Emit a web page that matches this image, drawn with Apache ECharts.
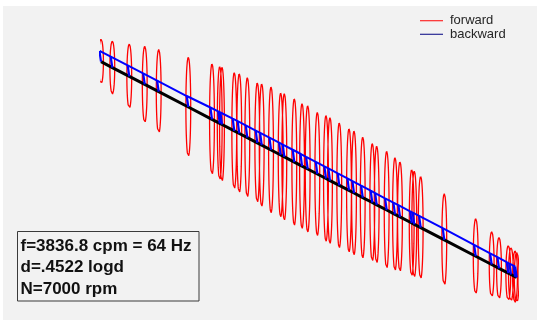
<!DOCTYPE html>
<html><head><meta charset="utf-8">
<script src="https://cdn.jsdelivr.net/npm/echarts@6/dist/echarts.min.js"></script>
<style>html,body{margin:0;padding:0;background:#fff}#c{width:537px;height:320px}</style>
</head><body><div id="c"></div>
<script>
// Axial station positions along the shaft (axial units)
const stationPos = [0, 1.36, 3.40, 5.26, 6.94, 10.50, 13.35, 14.28, 14.55, 16.03, 16.63,
  17.60, 18.80, 19.33, 20.45, 21.61, 22.05, 23.25, 24.18, 24.86, 26.02, 27.06, 27.54,
  28.66, 29.83, 30.43, 31.48, 32.63, 33.16, 34.36, 35.36, 35.96, 37.37, 37.68, 38.45,
  41.29, 45.07, 46.99, 47.87, 48.99, 49.31, 49.80, 50];
// Orbit (whirl) major semi-axis at each station
const orbitAmp = [22.5, 26.5, 32.3, 38.1, 42.1, 49.7, 55.5, 56.7, 57.2, 58.3, 59.7,
  60, 60, 61.3, 63, 62, 63.3, 63.3, 62.5, 63.3, 61.7, 63, 63,
  62.5, 61.7, 62, 60.5, 59, 58.7, 58.7, 56.7, 55, 53.3, 53.2, 51.2,
  46.2, 37.5, 32.8, 30.8, 27.5, 26.7, 25.8, 25];
// Deflected-shape (t = 0) offset at each station
const shapeDefl = [10.8, 10.9, 11, 11, 11, 11, 11.8, 12, 12, 12.2, 12.3,
  12.3, 12.3, 12.3, 12.3, 12.3, 12.3, 12.3, 12.3, 12.2, 12.2, 12.1, 12.1,
  12, 12, 12, 11.9, 11.8, 11.8, 11.7, 11.7, 11.7, 11.7, 11.7, 11.7,
  11.7, 11.4, 11.2, 11.1, 11, 11, 11, 11];
const legendNames = ['forward', 'backward'];
const infoLines = ['f=3836.8 cpm = 64 Hz', 'd=.4522 logd', 'N=7000 rpm'];

// view / projection settings
const TILT = 4.316;      // vertical drop of the shaft per axial unit in this view
const ORBIT_W = 0.29;    // projected minor semi-axis of orbits (axial units)
const TIP_DX = -0.19;    // projected axial shift of deflection tip
const STEPS = 64;

const gap = ['-', '-'];
const orbitData = [], segData = [], tipData = [], shaftData = [];
stationPos.forEach((s, i) => {
  const cv = -TILT * s;
  for (let k = 0; k <= STEPS; k++) {
    const t = 2 * Math.PI * k / STEPS;
    orbitData.push([s + ORBIT_W * Math.sin(t), cv + orbitAmp[i] * Math.cos(t)]);
  }
  orbitData.push(gap);
  const tip = [s + TIP_DX, cv + shapeDefl[i]];
  segData.push([s, cv], tip, gap);
  tipData.push(tip);
  shaftData.push([s, cv]);
});

const chart = echarts.init(document.getElementById('c'), null, {renderer: 'canvas'});
chart.setOption({
  animation: false,
  backgroundColor: '#ffffff',
  grid: {left: 101, right: 20.3, top: 0, bottom: 0, containLabel: false},
  xAxis: {type: 'value', min: 0, max: 50, show: false},
  yAxis: {type: 'value', min: -258.3, max: 61.7, show: false},
  legend: {
    data: legendNames, orient: 'vertical', left: 420, top: 14, padding: 0,
    itemWidth: 23, itemHeight: 1, itemGap: 0, icon: 'rect',
    textStyle: {fontFamily: 'Liberation Sans', fontSize: 13, color: '#262626', lineHeight: 13.5,
      padding: [0, 0, 0, 2]}
  },
  graphic: [
    {type: 'rect', z: -10, shape: {x: 3, y: 6, width: 534, height: 314}, style: {fill: '#f2f2f2'}, silent: true},
    {type: 'rect', z: 50, shape: {x: 17.5, y: 231.5, width: 181.5, height: 69.5},
     style: {fill: 'none', stroke: '#3a3a3a', lineWidth: 1}},
    {type: 'text', z: 51, x: 20.5, y: 235.3,
     style: {text: infoLines.join('\n'), font: 'bold 17px "Liberation Sans"', fill: '#111',
       lineHeight: 21.5, textVerticalAlign: 'top'}}
  ],
  series: [
    {name: 'forward', type: 'line', color: '#ff0000', data: orbitData, showSymbol: false, symbol: 'none',
     connectNulls: false, lineStyle: {width: 1.3, color: '#ff0000'}, z: 2, silent: true},
    {name: 'backward', type: 'line', color: '#000080', data: [], showSymbol: false, symbol: 'none',
     lineStyle: {color: '#000080'}},
    {name: 'shaft', type: 'line', data: shaftData, showSymbol: false, symbol: 'none',
     lineStyle: {width: 3, color: '#000000'}, z: 3, silent: true},
    {name: 'shapeSeg', type: 'line', data: segData, showSymbol: false, symbol: 'none',
     connectNulls: false, lineStyle: {width: 2.2, color: '#0000ff'}, z: 4, silent: true},
    {name: 'shapeLine', type: 'line', data: tipData, showSymbol: false, symbol: 'none',
     lineStyle: {width: 2, color: '#0000ff'}, z: 4, silent: true}
  ]
});
</script></body></html>
